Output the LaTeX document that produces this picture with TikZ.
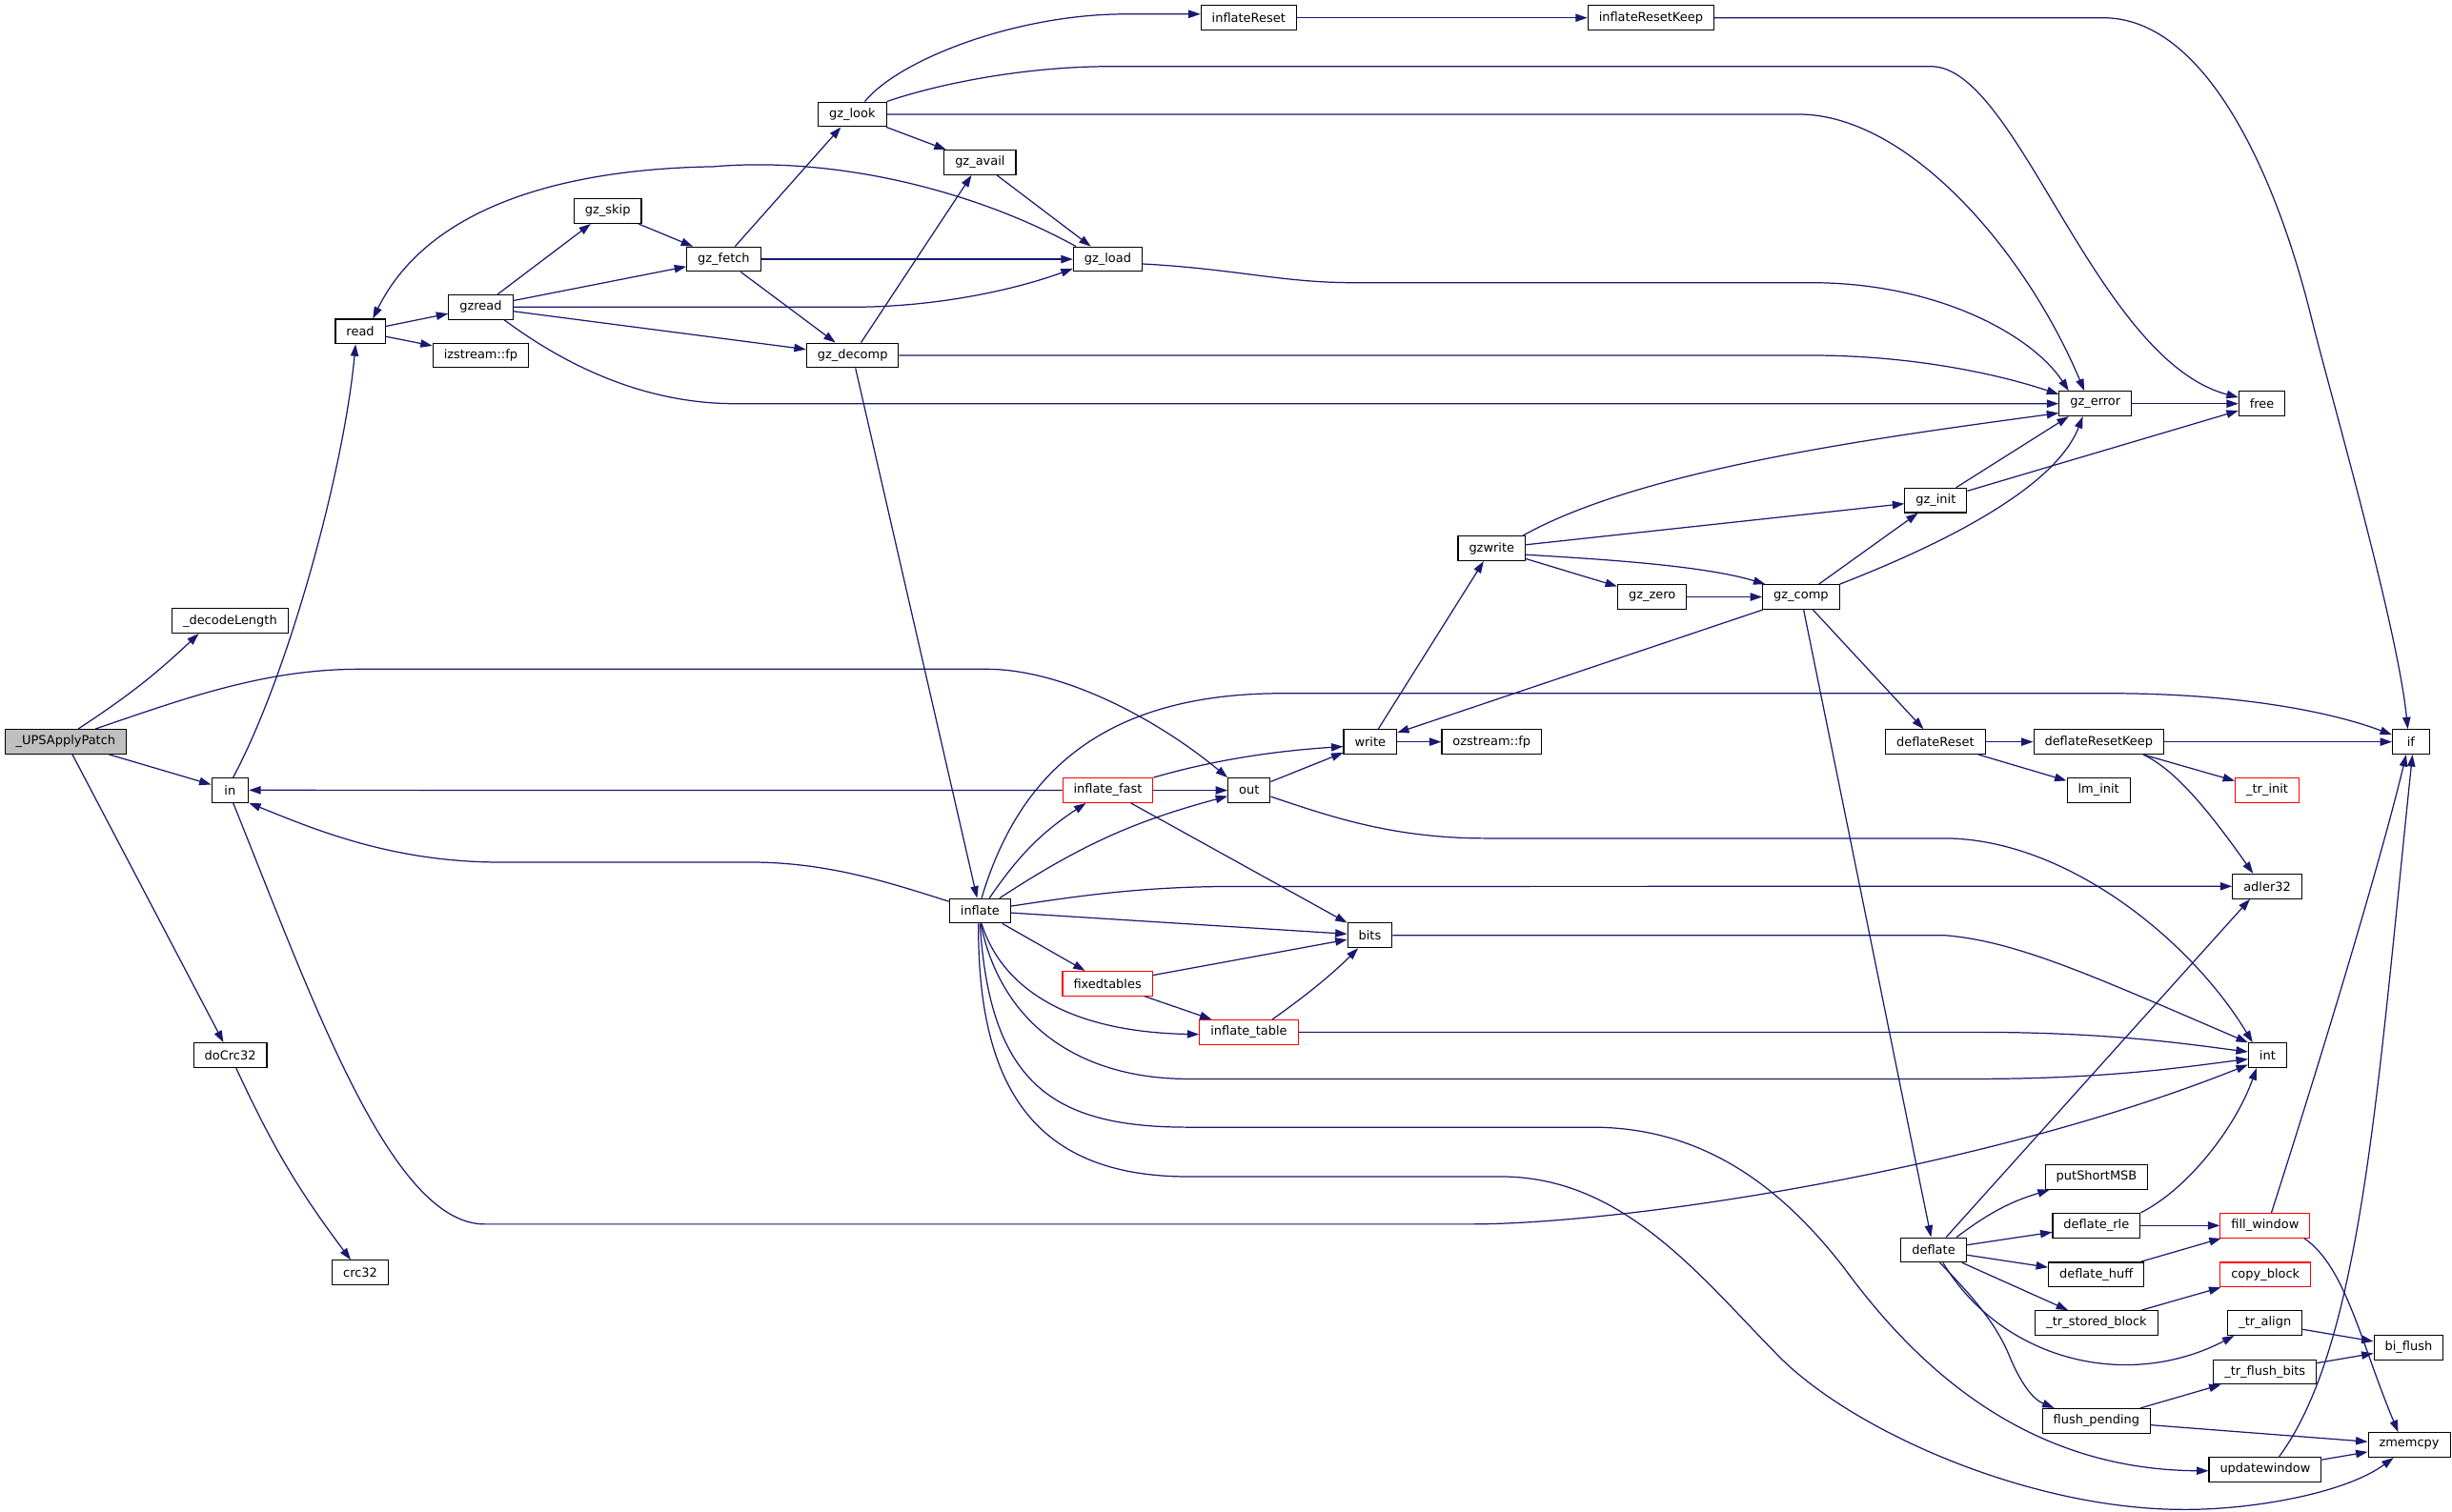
\documentclass[tikz,border=0pt]{standalone}
\usepackage{fontspec}
\setmainfont{DejaVu Sans}
\usetikzlibrary{arrows.meta}
\definecolor{edgeblue}{HTML}{191970}
\definecolor{rootgrey}{HTML}{BFBFBF}
\begin{document}
\begin{tikzpicture}[x=1pt,y=-1pt,
  fn/.style={draw=black, fill=white, line width=0.65pt, font=\fontsize{7.9}{9}\selectfont,
    inner xsep=7pt, inner ysep=0pt, minimum height=15.7pt, minimum width=23.5pt},
  rootfn/.style={fn, fill=rootgrey},
  partfn/.style={fn, draw=red},
  call/.style={draw=edgeblue, line width=0.75pt, -{Triangle[length=7.6pt,width=5.1pt]}}
]
\useasboundingbox (0,0) rectangle (1568,967);

% ---- functions ----
\node[rootfn] (ups)          at (42,474.4)     {\_UPSApplyPatch};
\node[fn]     (decodelen)    at (147.1,397.1)  {\_decodeLength};
\node[fn]     (nin)          at (147.1,505.4)  {in};
\node[fn]     (docrc)        at (147.2,675)    {doCrc32};
\node[fn]     (crc)          at (230.4,814)    {crc32};
\node[fn]     (nread)        at (230.4,212)    {read};
\node[fn]     (gzread)       at (307.4,196.4)  {gzread};
\node[fn]     (izfp)         at (307.4,227.3)  {izstream::fp};
\node[fn]     (gzskip)       at (388.6,135)    {gz\_skip};
\node[fn]     (gzfetch)      at (462.8,165.8)  {gz\_fetch};
\node[fn]     (gzlook)       at (545,73.1)     {gz\_look};
\node[fn]     (gzavail)      at (626.7,103.9)  {gz\_avail};
\node[fn]     (gzload)       at (708.4,165.8)  {gz\_load};
\node[fn]     (gzdecomp)     at (545.2,227.3)  {gz\_decomp};
\node[fn]     (infreset)     at (798.5,11.4)   {inflateReset};
\node[fn]     (infresetkeep) at (1055.7,11.4)  {inflateResetKeep};
\node[fn]     (gzerror)      at (1339.9,258.2) {gz\_error};
\node[fn]     (nfree)        at (1446.5,258.2) {free};
\node[fn]     (gzwrite)      at (953.9,350.8)  {gzwrite};
\node[fn]     (gzinit)       at (1237.9,320)   {gz\_init};
\node[fn]     (gzzero)       at (1056.5,381.8) {gz\_zero};
\node[fn]     (gzcomp)       at (1151.7,381.8) {gz\_comp};
\node[fn]     (nwrite)       at (876.2,474.5)  {write};
\node[fn]     (ozfp)         at (953.9,474.5)  {ozstream::fp};
\node[partfn] (inffast)      at (708.4,505.5)  {inflate\_fast};
\node[fn]     (nout)         at (798.8,505.5)  {out};
\node[fn]     (inflate)      at (626.7,582.6)  {inflate};
\node[fn]     (bits)         at (876,598.3)    {bits};
\node[partfn] (fixed)        at (708.2,629.1)  {fixedtables};
\node[partfn] (inftable)     at (798.6,660.2)  {inflate\_table};
\node[fn]     (defreset)     at (1237.6,474.5) {deflateReset};
\node[fn]     (defresetkeep) at (1342.1,474.5) {deflateResetKeep};
\node[fn]     (nif)          at (1541.7,474.5) {if};
\node[fn]     (lminit)       at (1342,505.4)   {lm\_init};
\node[partfn] (trinit)       at (1449.8,505.4) {\_tr\_init};
\node[fn]     (adler)        at (1449.8,566.9) {adler32};
\node[fn]     (nint)         at (1450,675)     {int};
\node[fn]     (putshort)     at (1340.7,752.8) {putShortMSB};
\node[fn]     (defrle)       at (1340.6,783.9) {deflate\_rle};
\node[partfn] (fillwin)      at (1448.5,783.9) {fill\_window};
\node[fn]     (deflate)      at (1236.5,799.5) {deflate};
\node[fn]     (defhuff)      at (1340.5,815.3) {deflate\_huff};
\node[partfn] (copyblock)    at (1448.7,815.3) {copy\_block};
\node[fn]     (trstored)     at (1340.7,846.2) {\_tr\_stored\_block};
\node[fn]     (tralign)      at (1448.4,846.2) {\_tr\_align};
\node[fn]     (biflush)      at (1540.2,861.8) {bi\_flush};
\node[fn]     (trflush)      at (1448.4,877.5) {\_tr\_flush\_bits};
\node[fn]     (flushpend)    at (1340.6,908.8) {flush\_pending};
\node[fn]     (zmemcpy)      at (1540.6,924.2) {zmemcpy};
\node[fn]     (updwin)       at (1448.5,939.8) {updatewindow};

% ---- calls: _UPSApplyPatch, doCrc32, in ----
\draw[call] ([xshift=8pt]ups.north) to[bend right=5] ([xshift=-20pt]decodelen.south);
\draw[call] ([xshift=19pt]ups.north) .. controls (120,446) and (170,428) .. (230,428) -- (631,428)
  .. controls (680,428) and (740,460) .. (nout.north west);
\draw[call] (ups) -- (nin);
\draw[call] (ups) -- (docrc);
\draw[call] (docrc) to[bend right=6] (crc);
\draw[call] ([xshift=2pt]nin.north) .. controls (185,430) and (220,300) .. ([xshift=-3pt]nread.south);
\draw[call] ([xshift=2pt]nin.south) .. controls (200,640) and (250,783) .. (310,783) -- (940,783)
  .. controls (1040,783) and (1270,748) .. ([yshift=-6pt]nint.west);

% ---- read side ----
\draw[call] (nread) -- (gzread);
\draw[call] (nread) -- (izfp);
\draw[call] (gzread) -- (gzskip);
\draw[call] (gzread) -- (gzfetch);
\draw[call] (gzread.east) -- (545,196.4) .. controls (600,196.4) and (650,185) .. ([yshift=-6pt]gzload.west);
\draw[call] (gzread) -- (gzdecomp);
\draw[call] ([xshift=15pt]gzread.south) .. controls (370,240) and (420,258.2) .. (470,258.2) -- (gzerror.west);
\draw[call] (gzskip) -- (gzfetch);
\draw[call] (gzfetch) -- (gzlook);
\draw[call] (gzfetch) -- (gzload);
\draw[call] (gzfetch) -- (gzdecomp);
\draw[call] ([xshift=8pt]gzlook.north) .. controls (575,38) and (650,9) .. (720,9) -- ([yshift=2.4pt]infreset.west);
\draw[call] (gzlook.north east) .. controls (605,52) and (660,42.5) .. (710,42.5) -- (1235,42.5)
  .. controls (1290,42.5) and (1340,230) .. ([yshift=4pt]nfree.west);
\draw[call] (gzlook.east) -- (1150,73.1) .. controls (1220,73.1) and (1295,160) .. ([xshift=-7pt]gzerror.north);
\draw[call] (gzlook) -- (gzavail);
\draw[call] (gzavail) -- (gzload);
\draw[call] ([xshift=2pt]gzload.north west) .. controls (620,120) and (530,100) .. (456,106.6)
  .. controls (365,108) and (275,130) .. ([xshift=8pt]nread.north);
\draw[call] ([yshift=-3pt]gzload.east) .. controls (790,172) and (820,180.8) .. (865,180.8) -- (1158,180.8)
  .. controls (1240,180.8) and (1300,215) .. ([xshift=-17pt]gzerror.north);
\draw[call] (gzdecomp) -- (gzavail);
\draw[call] (gzdecomp.east) -- (1158,227.3) .. controls (1225,227.3) and (1280,240) .. ([yshift=6pt]gzerror.west);
\draw[call] (gzdecomp) -- (inflate);
\draw[call] (infreset) -- (infresetkeep);
\draw[call] (infresetkeep.east) -- (1345,11.4) .. controls (1410,11.4) and (1455,110) .. (1478,203)
  .. controls (1490,251.5) and (1533,400) .. ([xshift=-2pt]nif.north);
\draw[call] (gzerror) -- (nfree);

% ---- write side ----
\draw[call] ([xshift=-2pt]gzwrite.north east) .. controls (1050,300) and (1200,280) .. ([yshift=-6pt]gzerror.west);
\draw[call] (gzwrite) -- (gzinit);
\draw[call] ([yshift=-4pt]gzwrite.east) .. controls (1030,358) and (1090,362) .. ([xshift=2pt]gzcomp.north west);
\draw[call] (gzwrite) -- (gzzero);
\draw[call] (gzzero) -- (gzcomp);
\draw[call] (gzcomp) -- (gzinit);
\draw[call] (gzcomp.north east) .. controls (1250,345) and (1315,310) .. ([xshift=-8pt]gzerror.south);
\draw[call] (gzcomp) -- (nwrite);
\draw[call] (gzcomp) -- (defreset);
\draw[call] (gzcomp) -- (deflate);
\draw[call] ([xshift=13pt]gzinit.north) -- ([xshift=-17pt]gzerror.south);
\draw[call] (gzinit) -- (nfree);
\draw[call] (nwrite) -- (gzwrite);
\draw[call] (nwrite) -- (ozfp);
\draw[call] (nout) -- (nwrite);
\draw[call] ([yshift=-4pt]nout.east) .. controls (850,522) and (890,536.2) .. (950,536.2) -- (1243,536.2)
  .. controls (1320,536.2) and (1400,600) .. ([xshift=-9.5pt]nint.north);

% ---- inflate side ----
\draw[call] (inffast) -- (nin);
\draw[call] (inffast.north east) .. controls (780,485) and (820,480) .. ([yshift=-3pt]nwrite.west);
\draw[call] (inffast) -- (nout);
\draw[call] (inffast) -- (bits);
\draw[call] ([yshift=6pt]inflate.west) .. controls (570,565) and (530,551.5) .. (480,551.5) -- (320,551.5)
  .. controls (250,551.5) and (200,530) .. (nin.south east);
\draw[call] ([xshift=6pt]inflate.north) to[bend left=11] ([xshift=-14pt]inffast.south);
\draw[call] (inflate) to[bend left=9] (nout);
\draw[call] ([xshift=1pt]inflate.north) .. controls (650,500) and (700,443.5) .. (820,443.5) -- (1349,443.5)
  .. controls (1430,443.5) and (1490,455) .. ([yshift=4.5pt]nif.west);
\draw[call] ([yshift=3pt]inflate.east) .. controls (690,573) and (730,567) .. (790,567) -- (adler.west);
\draw[call] (inflate) -- (bits);
\draw[call] (inflate) -- (fixed);
\draw[call] ([xshift=1pt]inflate.south) .. controls (640,630) and (680,660) .. ([yshift=-1.4pt]inftable.west);
\draw[call] ([xshift=0.5pt]inflate.south) .. controls (640,655) and (690,690.1) .. (760,690.1) -- (1263,690.1)
  .. controls (1350,690.1) and (1400,682) .. ([yshift=-2.4pt]nint.west);
\draw[call] (inflate.south) .. controls (633,695) and (675,721) .. (760,721) -- (1018,721)
  .. controls (1090,721) and (1140,760) .. (1180,812) .. controls (1230,880) and (1300,940) .. ([yshift=-1pt]updwin.west);
\draw[call] ([xshift=-1pt]inflate.south) .. controls (625,700) and (665,752.6) .. (760,752.6) -- (960,752.6)
  .. controls (1040,752.6) and (1090,820) .. (1140,870) .. controls (1190,918) and (1300,965) .. (1394.5,965.5)
  .. controls (1440,966) and (1500,955) .. ([xshift=-10pt]zmemcpy.south);
\draw[call] (fixed) -- (bits);
\draw[call] (fixed) -- (inftable);
\draw[call] ([xshift=15pt]inftable.north) .. controls (835,637) and (852,623) .. ([xshift=-7.5pt]bits.south);
\draw[call] (inftable.east) -- (1263,660.2) .. controls (1350,660.2) and (1400,668) .. ([yshift=2.2pt]nint.west);
\draw[call] (bits.east) -- (1244,598.3) .. controls (1290,602) and (1340,625) .. (nint.north west);

% ---- deflate side ----
\draw[call] (defreset) -- (defresetkeep);
\draw[call] (defreset) -- (lminit);
\draw[call] (defresetkeep) -- (nif);
\draw[call] (defresetkeep) -- (trinit);
\draw[call] ([xshift=28.5pt]defresetkeep.south) .. controls (1390,492) and (1410,515) .. ([xshift=-9pt]adler.north);
\draw[call] ([xshift=8pt]deflate.north) -- ([xshift=-11pt]adler.south);
\draw[call] ([xshift=14.7pt]deflate.north) to[bend left=10] ([xshift=-30pt]putshort.south);
\draw[call] (deflate) -- (defrle);
\draw[call] (deflate) -- (defhuff);
\draw[call] (deflate) -- (trstored);
\draw[call] ([xshift=6pt]deflate.south) .. controls (1280,870) and (1360,890) .. ([xshift=-19.7pt]tralign.south);
\draw[call] ([xshift=4pt]deflate.south) .. controls (1262,830) and (1275,845) .. (1284,865)
  .. controls (1292,885) and (1300,895) .. ([xshift=-27pt]flushpend.north);
\draw[call] (defrle) -- (fillwin);
\draw[call] (defrle.north east) .. controls (1400,760) and (1430,720) .. ([xshift=-7pt]nint.south);
\draw[call] (defhuff) -- (fillwin);
\draw[call] ([xshift=4pt]fillwin.north) .. controls (1480,690) and (1520,560) .. ([xshift=-3pt]nif.south);
\draw[call] ([xshift=25pt]fillwin.south) .. controls (1500,810) and (1510,860) .. ([xshift=-7pt]zmemcpy.north);
\draw[call] (trstored) -- (copyblock);
\draw[call] (tralign) -- (biflush);
\draw[call] (trflush) -- (biflush);
\draw[call] (flushpend) -- (trflush);
\draw[call] (flushpend) -- (zmemcpy);
\draw[call] (updwin) -- (zmemcpy);
\draw[call] ([xshift=9pt]updwin.north) .. controls (1510,860) and (1520,700) .. ([xshift=1pt]nif.south);
\end{tikzpicture}
\end{document}
